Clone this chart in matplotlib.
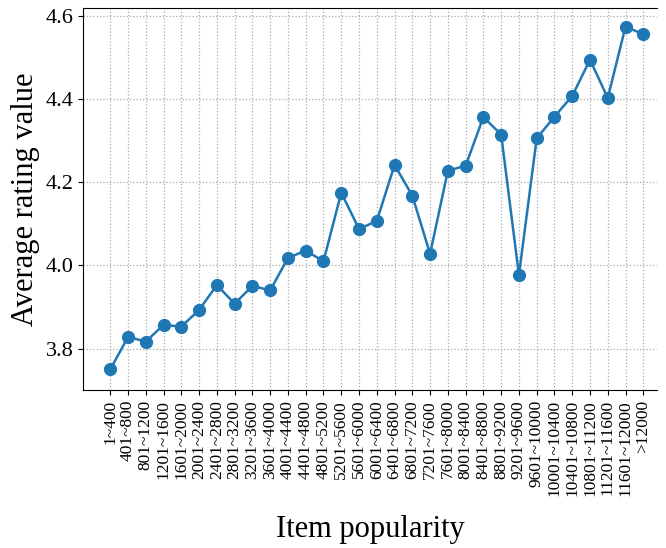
import matplotlib
matplotlib.use("Agg")
import matplotlib.pyplot as plt

labels = ["1~400"] + [f"{i*400+1}~{(i+1)*400}" for i in range(1, 30)] + [">12000"]
values = [3.750, 3.828, 3.817, 3.857, 3.853, 3.893, 3.953, 3.908, 3.951, 3.940,
          4.018, 4.036, 4.010, 4.175, 4.088, 4.107, 4.242, 4.168, 4.028, 4.228,
          4.240, 4.357, 4.315, 3.977, 4.306, 4.358, 4.408, 4.495, 4.403, 4.575, 4.556]

plt.rcParams['font.family'] = ['Liberation Serif', 'DejaVu Serif']
fig = plt.figure(figsize=(6.66, 5.48), dpi=100)
ax = fig.add_axes([0.125, 0.288, 0.862, 0.697])
x = list(range(len(labels)))
ax.plot(x, values, '-o', color='#1f77b4', lw=1.8, ms=8.5)
ax.set_xticks(x)
ax.set_xticklabels(labels, rotation=90, fontsize=12.5)
ax.set_xlim(-1.52, len(labels) - 1 + 0.79)
ax.set_ylim(3.70, 4.619)
ax.set_yticks([3.8, 4.0, 4.2, 4.4, 4.6])
ax.tick_params(axis='y', labelsize=16)
ax.grid(True, linestyle=':', color='#aaaaaa', lw=0.9)
ax.spines['right'].set_visible(False)
ax.set_ylabel("Average rating value", fontsize=22)
ax.set_xlabel("Item popularity", fontsize=22, labelpad=14)
fig.savefig("out.png", dpi=100)
